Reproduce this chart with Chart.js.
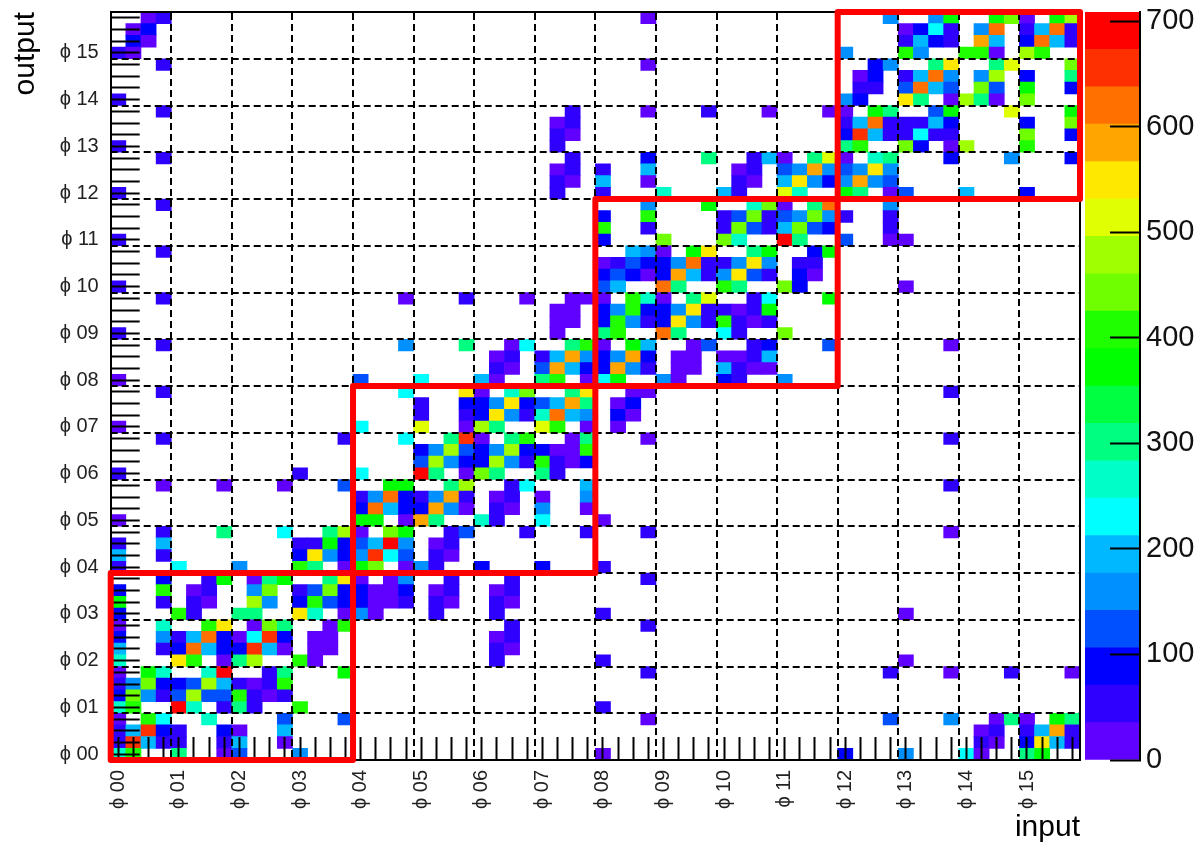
<!DOCTYPE html>
<html>
<head>
<meta charset="utf-8">
<title>input / output</title>
<script src="https://cdn.jsdelivr.net/npm/chart.js@4"></script>
<style>
  body { margin: 0; background: #fff; }
  canvas { position: absolute; top: 0; }
  #mainCanvas { left: 0; }
  #barCanvas { left: 1080px; }
</style>
</head>
<body>
<canvas id="mainCanvas" width="1197" height="846"></canvas>
<canvas id="barCanvas" width="117" height="846"></canvas>
<script>
const phiLabels = ['00','01','02','03','04','05','06','07','08','09','10','11','12','13','14','15'];
const binsPerPhi = 4;
const zMax = 709;
const zTicks = [0,100,200,300,400,500,600,700];
const levelColors = ['#6000ff','#3000ff','#0000ff','#0050ff','#0090ff','#00b8ff','#00ffff','#00ffc8','#00ff80','#00ff40',
                     '#00ff00','#20ff00','#70ff00','#a0ff00','#e0ff00','#ffe800','#ffa500','#ff7000','#ff3000','#ff0000'];
const redBoxes = [[0,4],[4,8],[8,12],[12,16]]; // from, to in phi

// one list per output bin, from the bottom: input bin, count, input bin, count ...
const binCounts = [
  [0,266,1,407,4,301,7,18,8,124,12,160,32,18,48,89,52,160,56,230,57,18,60,301,61,372],
  [0,53,1,656,2,195,3,53,4,53,7,53,8,195,11,18,57,53,58,18,60,89,61,549,62,195,63,53],
  [0,53,1,195,2,656,3,89,4,53,7,89,8,18,11,195,57,18,58,53,60,53,61,195,62,585,63,53],
  [0,18,2,407,3,230,6,266,11,124,15,124,35,18,51,124,55,160,58,18,59,301,60,18,62,372,63,301],
  [0,266,1,407,4,691,5,266,7,53,8,301,9,53,12,407,32,53],
  [0,89,1,443,2,160,3,53,4,124,5,478,6,124,7,124,8,407,9,53,10,18,11,53],
  [0,53,1,160,2,443,3,89,4,89,5,124,6,478,7,195,8,53,9,18,10,53,11,407],
  [0,18,2,372,3,266,6,266,7,691,10,53,11,301,15,372,35,53,51,53,55,18,59,53,63,18],
  [0,266,4,549,5,407,7,18,8,301,9,478,12,407,13,18,25,53,32,53,52,18],
  [0,195,3,53,4,89,5,620,6,195,7,89,8,89,9,656,10,195,11,18,13,18,14,18,25,53,26,18],
  [0,89,3,160,4,53,5,195,6,620,7,89,8,18,9,230,10,656,11,89,13,18,14,18,25,18,26,53],
  [0,18,3,266,6,407,7,549,9,18,10,443,11,301,14,18,15,407,26,53,35,53],
  [0,89,4,407,5,53,8,301,9,301,12,549,13,266,15,18,16,160,17,18,21,53,25,53,32,53,52,18],
  [0,372,3,53,5,53,6,18,9,478,10,160,12,89,13,407,14,124,15,89,16,89,17,18,18,18,19,53,21,53,22,18,25,53,26,18],
  [0,89,3,407,5,18,6,53,9,160,10,443,12,53,13,124,14,443,15,89,16,89,17,18,18,18,19,89,21,18,22,53,25,18,26,53],
  [3,89,6,53,7,372,9,18,10,301,11,372,14,301,15,549,16,18,18,18,19,160,22,53,26,53,35,53],
  [0,53,4,230,8,160,12,407,13,301,15,18,16,372,17,443,19,18,20,160,21,53,24,89,28,89,32,53],
  [0,195,3,53,12,89,13,549,14,160,15,89,16,160,17,656,18,230,19,124,21,53,22,18],
  [0,53,3,195,12,53,13,53,14,372,15,89,16,124,17,195,18,691,19,160,21,18,22,53],
  [3,53,7,301,11,230,14,301,15,478,16,18,18,443,19,372,22,53,23,124,27,53,31,53,35,53,55,18],
  [0,18,16,372,17,372,19,18,20,585,21,301,24,266,25,53,28,230,32,18],
  [16,89,17,620,18,195,19,89,20,89,21,585,22,160,23,18,25,53,26,18,28,160,31,18],
  [16,53,17,160,18,620,19,89,20,53,21,160,22,585,23,53,25,18,26,53,28,18,31,160],
  [3,18,7,18,11,18,15,124,18,372,19,372,22,301,23,478,26,53,27,230,31,195,55,53],
  [0,53,12,53,16,230,20,691,21,301,23,18,24,443,25,301,28,301,29,53],
  [20,124,21,478,22,160,23,89,24,89,25,478,26,160,27,53,28,407,29,53,30,18,31,89],
  [20,89,21,160,22,478,23,124,24,89,25,160,26,478,27,89,28,89,29,18,30,18,31,407],
  [3,53,15,53,19,230,22,301,23,656,24,18,26,301,27,407,30,18,31,301,35,18,55,53],
  [0,18,16,230,20,514,23,18,24,478,25,301,28,514,29,407,31,18,33,18],
  [20,53,23,53,24,89,25,549,26,160,27,53,28,266,29,620,30,195,31,160,33,89,34,18],
  [20,53,23,89,24,89,25,160,26,549,27,89,28,124,29,195,30,585,31,301,33,18,34,89],
  [3,53,19,230,23,549,24,18,26,266,27,443,30,301,31,549,34,18,35,18,55,53],
  [0,18,16,124,20,230,24,195,25,18,28,301,29,407,31,18,32,230,33,372,36,160,37,18,40,89,41,53,44,160],
  [25,53,26,18,28,124,29,585,30,195,31,89,32,89,33,585,34,160,35,53,37,18,38,18,40,195,41,53,42,18,43,18],
  [25,18,26,53,28,53,29,195,30,585,31,160,32,89,33,160,34,585,35,89,37,18,38,18,40,18,41,18,42,53,43,195],
  [3,53,19,160,23,301,26,18,27,230,30,301,31,407,32,18,34,372,35,195,38,18,39,124,42,53,43,89,47,124,55,18],
  [0,53,29,18,32,301,33,407,36,620,37,301,40,230,41,53,44,443],
  [29,18,30,18,32,89,33,407,34,160,35,53,36,89,37,549,38,160,39,53,40,407,41,53,42,18,43,53],
  [29,18,30,18,32,89,33,160,34,407,35,89,36,89,37,160,38,549,39,53,40,53,41,18,42,53,43,372],
  [3,53,19,18,23,53,27,18,30,18,31,18,32,18,34,407,35,266,36,18,38,301,39,514,42,53,43,230,47,372],
  [0,53,32,124,33,195,36,620,37,301,40,407,41,301,44,443,45,89,52,18],
  [32,89,33,124,34,89,35,18,36,89,37,585,38,195,39,53,40,160,41,549,42,124,43,53,45,89,46,18],
  [32,18,33,53,34,124,35,89,36,89,37,160,38,620,39,53,40,53,41,160,42,549,43,160,45,53,46,53],
  [3,53,34,195,35,160,36,18,38,372,39,549,42,301,43,372,46,89,47,372],
  [0,53,32,89,36,443,40,443,41,266,44,691,45,301,48,124,51,18,52,18],
  [32,407,35,53,40,53,41,443,42,124,43,53,44,195,45,443,46,124,47,89,51,53],
  [32,89,35,407,40,53,41,124,42,443,43,53,44,124,45,160,46,443,47,160,48,53,51,53],
  [3,53,35,160,39,372,42,266,43,443,44,18,46,301,47,620,51,160],
  [0,53,29,53,32,53,36,266,40,195,41,53,44,514,45,266,48,372,49,301,51,18,52,124,56,195,60,89],
  [29,53,30,18,32,195,35,18,41,53,42,18,44,195,45,549,46,160,47,89,48,160,49,585,50,160,51,124],
  [29,18,30,53,32,53,35,195,41,18,42,53,44,124,45,160,46,585,47,160,48,124,49,160,50,549,51,160],
  [3,53,30,53,35,89,39,301,42,53,43,195,44,18,46,301,47,514,48,18,50,266,51,301,55,89,59,160,63,89],
  [0,53,29,53,48,301,49,407,52,443,53,89,55,18,56,478,60,407],
  [29,53,30,18,48,89,49,656,50,195,51,53,52,53,53,230,54,53,55,53,60,443,63,89],
  [29,18,30,53,48,53,49,195,50,620,51,53,52,53,53,53,54,195,55,89,60,89,63,443],
  [3,53,30,53,35,18,39,53,43,18,47,18,48,18,50,372,51,301,54,124,55,372,59,514,63,372],
  [0,53,48,160,49,89,52,549,53,301,55,18,56,478,57,301,58,18,60,443],
  [49,53,50,53,52,124,53,620,54,195,55,124,57,443,58,124,60,372,63,89],
  [49,18,50,89,52,53,53,195,54,620,55,160,57,160,58,478,60,89,63,301],
  [3,53,35,18,50,89,51,160,54,301,55,549,58,301,59,514,63,443],
  [0,53,1,18,48,160,52,407,53,160,56,407,57,407,58,18,60,478,61,407],
  [1,89,2,18,52,53,53,195,54,89,55,53,57,585,58,195,60,89,61,620,62,195,63,53],
  [1,18,2,89,52,18,53,89,54,230,55,53,57,160,58,620,60,53,61,195,62,620,63,53],
  [2,18,3,53,35,18,51,160,54,160,55,372,58,372,59,443,60,18,62,372,63,478]
];

const inputLabels = [];
for (let i = 0; i < 64; i++) {
  inputLabels.push(i % binsPerPhi === 0 ? '\u03d5 ' + phiLabels[i / binsPerPhi] : '');
}

function colorOf(v) {
  const level = Math.floor(v / (zMax / levelColors.length));
  return levelColors[Math.min(level, levelColors.length - 1)];
}

// every output bin is one dataset of floating bars
const datasets = binCounts.map(function(cells, row) {
  const data = new Array(64).fill(null);
  const colors = new Array(64).fill('transparent');
  for (let i = 0; i < cells.length; i += 2) {
    data[cells[i]] = [row, row + 1];
    colors[cells[i]] = colorOf(cells[i + 1]);
  }
  return { data: data, backgroundColor: colors, grouped: false, barPercentage: 1, categoryPercentage: 1, borderWidth: 0 };
});

const redBoxPlugin = {
  id: 'redBoxes',
  afterDraw(chart) {
    const c = chart.ctx;
    const sx = chart.scales.xPhi;
    const sy = chart.scales.yPhi;
    c.save();
    c.strokeStyle = '#ff0000';
    c.lineWidth = 6;
    c.lineJoin = 'round';
    redBoxes.forEach(function(b) {
      c.strokeRect(sx.getPixelForValue(b[0]), sy.getPixelForValue(b[1]),
                   sx.getPixelForValue(b[1]) - sx.getPixelForValue(b[0]),
                   sy.getPixelForValue(b[0]) - sy.getPixelForValue(b[1]));
    });
    c.restore();
  }
};

const labelFont = { family: "'Liberation Sans', Arial, sans-serif", size: 20 };
const titleFont = { family: "'Liberation Sans', Arial, sans-serif", size: 30 };

// big tick padding must not push the plot area in
function noMargins(s) {
  s.paddingLeft = s.paddingRight = s.paddingTop = s.paddingBottom = 0;
}

new Chart(document.getElementById('mainCanvas'), {
  type: 'bar',
  data: { labels: inputLabels, datasets: datasets },
  plugins: [redBoxPlugin],
  options: {
    responsive: false,
    animation: false,
    events: [],
    layout: { autoPadding: false, padding: { left: 0, right: 117, top: 12, bottom: 0 } },
    plugins: { legend: { display: false }, tooltip: { enabled: false } },
    scales: {
      x: {
        type: 'category',
        offset: true,
        afterFit(s) { s.height = 86; noMargins(s); },
        title: { display: true, text: 'input', align: 'end', color: '#000', font: titleFont, padding: { top: 0, bottom: 0 } },
        ticks: { autoSkip: false, minRotation: 90, maxRotation: 90, color: '#222', font: labelFont, padding: 33, z: 2 },
        grid: { offset: false, drawOnChartArea: false, tickLength: -23, tickColor: '#000', tickWidth: 2, z: 1 },
        border: { display: true, color: '#000', width: 2, z: 1 }
      },
      y: {
        type: 'linear',
        min: 0,
        max: 64,
        afterFit(s) { s.width = 110.7; noMargins(s); },
        afterBuildTicks(s) {
          const t = [];
          for (let i = 0; i < 64; i++) t.push({ value: i + 0.5 });
          s.ticks = t;
        },
        title: { display: true, text: 'output', align: 'end', color: '#000', font: titleFont, padding: { top: 8, bottom: 0 } },
        ticks: {
          autoSkip: false,
          color: '#222',
          font: labelFont,
          padding: 41,
          z: 2,
          callback: function(v, i) { return inputLabels[i]; }
        },
        grid: { drawOnChartArea: false, tickLength: -29, tickColor: '#000', tickWidth: 2, z: 1 },
        border: { display: true, color: '#000', width: 2, z: 1 }
      },
      xPhi: {
        type: 'linear',
        axis: 'x',
        position: 'top',
        offset: false,
        min: 0,
        max: 16,
        afterFit(s) { s.height = 0; },
        ticks: { display: false, stepSize: 1 },
        grid: { offset: false, color: '#000', lineWidth: 2, drawTicks: false, z: 1 },
        border: { display: true, color: '#000', width: 2, dash: [7, 4], z: 1 }
      },
      yPhi: {
        type: 'linear',
        axis: 'y',
        position: 'right',
        min: 0,
        max: 16,
        afterFit(s) { s.width = 0; },
        ticks: { display: false, stepSize: 1 },
        grid: { color: '#000', lineWidth: 2, drawTicks: false, z: 1 },
        border: { display: true, color: '#000', width: 2, dash: [7, 4], z: 1 }
      }
    }
  }
});

// colour scale
const barDatasets = levelColors.map(function(col, i) {
  const step = zMax / levelColors.length;
  return { data: [[i * step, (i + 1) * step]], backgroundColor: col, grouped: false, barPercentage: 1, categoryPercentage: 1, borderWidth: 0 };
});

new Chart(document.getElementById('barCanvas'), {
  type: 'bar',
  data: { labels: ['z'], datasets: barDatasets },
  options: {
    responsive: false,
    animation: false,
    events: [],
    layout: { autoPadding: false, padding: { left: 5, right: 0, top: 12, bottom: 86 } },
    plugins: { legend: { display: false }, tooltip: { enabled: false } },
    scales: {
      x: { display: false, offset: true },
      y: {
        position: 'right',
        min: 0,
        max: zMax,
        afterFit(s) { s.width = 57; noMargins(s); },
        afterBuildTicks(s) { s.ticks = zTicks.map(function(v) { return { value: v }; }); },
        ticks: { color: '#111', font: { family: "'Liberation Sans', Arial, sans-serif", size: 29 }, padding: 36, z: 2 },
        grid: { drawOnChartArea: false, tickLength: -30, tickColor: '#000', tickWidth: 2, z: 1 },
        border: { display: true, color: '#000', width: 2, z: 1 }
      }
    }
  }
});
</script>
</body>
</html>
